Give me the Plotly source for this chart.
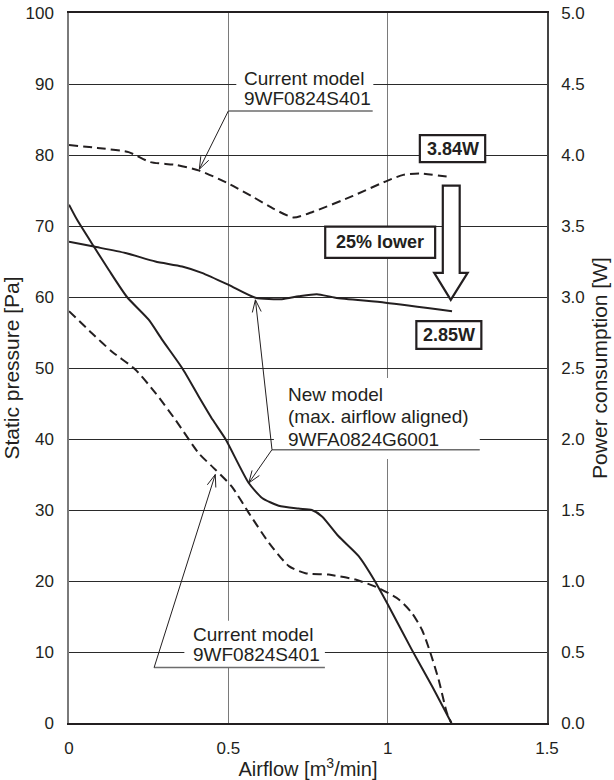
import math
import plotly.graph_objects as go

# ---------------- data ----------------
# P-Q curves (left axis, Pa)
cur_pq_x = [0.0, 0.072, 0.135, 0.208, 0.271, 0.334, 0.407, 0.459, 0.511, 0.564, 0.627, 0.690,
            0.742, 0.815, 0.899, 0.972, 1.035, 1.076, 1.108, 1.134, 1.160, 1.186, 1.200]
cur_pq_y = [58.0, 54.9, 52.3, 49.8, 46.5, 42.7, 38.0, 35.7, 33.3, 29.6, 25.4, 22.1,
            21.1, 20.9, 20.2, 19.0, 17.4, 15.5, 13.1, 9.9, 6.1, 1.4, 0.0]

new_pq_x = [0.0, 0.025, 0.078, 0.125, 0.182, 0.250, 0.292, 0.355, 0.407, 0.451, 0.491, 0.564,
            0.606, 0.658, 0.720, 0.762, 0.794, 0.846, 0.909, 0.961, 0.998, 1.076, 1.139, 1.200]
new_pq_y = [73.0, 70.9, 67.1, 63.8, 60.0, 56.8, 54.0, 50.0, 46.0, 42.7, 40.0, 33.8,
            31.7, 30.6, 30.2, 30.0, 29.1, 26.3, 23.5, 19.9, 16.9, 10.3, 5.2, 0.0]

# Power curves (right axis, W)
cur_pw_x = [0.0, 0.089, 0.187, 0.255, 0.335, 0.409, 0.500, 0.581, 0.643, 0.704, 0.766,
            0.889, 1.000, 1.049, 1.099, 1.194]
cur_pw_y = [4.07, 4.05, 4.02, 3.95, 3.93, 3.89, 3.80, 3.70, 3.62, 3.56, 3.60,
            3.71, 3.82, 3.86, 3.87, 3.845]

new_pw_x = [0.0, 0.078, 0.177, 0.271, 0.355, 0.417, 0.501, 0.585, 0.668, 0.721, 0.778,
            0.836, 0.993, 1.202]
new_pw_y = [3.39, 3.355, 3.31, 3.25, 3.215, 3.17, 3.085, 2.995, 2.985, 3.005, 3.02,
            2.995, 2.96, 2.90]

x_tickvals = [0, 0.5, 1.0, 1.5]
x_ticktext = ["0", "0.5", "1", "1.5"]
y_tickvals = [0, 10, 20, 30, 40, 50, 60, 70, 80, 90, 100]
y2_tickvals = [0.0, 0.5, 1.0, 1.5, 2.0, 2.5, 3.0, 3.5, 4.0, 4.5, 5.0]

label_cur = ["Current model", "9WF0824S401"]
label_new = ["New model", "(max. airflow aligned)", "9WFA0824G6001"]
box_labels = ["3.84W", "25% lower", "2.85W"]

# ---------------- figure ----------------
INK = "#231f20"
FONT = "Liberation Sans, Arial, sans-serif"
W, H = 614, 780
ML, MR, MT, MB = 69, 67, 13, 57
PX_X = (W - ML - MR) / 1.5     # px per x unit
PX_Y = (H - MT - MB) / 100.0   # px per Pa

fig = go.Figure()
line_kw = dict(color=INK, width=2, shape="spline", smoothing=0.6)
fig.add_trace(go.Scatter(x=cur_pq_x, y=cur_pq_y, mode="lines",
                         line=dict(dash="9px,5px", **line_kw), showlegend=False))
fig.add_trace(go.Scatter(x=new_pq_x, y=new_pq_y, mode="lines",
                         line=line_kw, showlegend=False))
fig.add_trace(go.Scatter(x=cur_pw_x, y=cur_pw_y, mode="lines", yaxis="y2",
                         line=dict(dash="9px,5px", **line_kw), showlegend=False))
fig.add_trace(go.Scatter(x=new_pw_x, y=new_pw_y, mode="lines", yaxis="y2",
                         line=line_kw, showlegend=False))

shapes = []
# white backgrounds behind label texts (cover gridlines)
for (x0, x1, y0, y1) in [(0.525, 0.955, 86.4, 92.6), (0.643, 1.289, 37.2, 48.6),
                         (0.362, 0.803, 7.8, 14.4)]:
    shapes.append(dict(type="rect", xref="x", yref="y", x0=x0, x1=x1, y0=y0, y1=y1,
                       fillcolor="white", line=dict(width=0), layer="between"))

# underlines
for (x0, x1, y) in [(0.5, 0.953, 86.2), (0.637, 1.289, 38.5), (0.267, 0.803, 7.8)]:
    shapes.append(dict(type="line", xref="x", yref="y", x0=x0, x1=x1, y0=y, y1=y,
                       line=dict(color="#6d6d6d", width=1.5)))


def vhead(xf, yf, xt, yt, length=13, half=20):
    dx = (xt - xf) * PX_X
    dy = (yt - yf) * PX_Y
    ang = math.atan2(dy, dx)
    pts = []
    for s in (-1, 1):
        a = ang + math.pi + s * math.radians(half)
        pts.append((xt + length * math.cos(a) / PX_X, yt + length * math.sin(a) / PX_Y))
    return "M {} {} L {} {} L {} {}".format(pts[0][0], pts[0][1], xt, yt, pts[1][0], pts[1][1])


leaders = [((0.5, 86.2), (0.409, 78.0)),
           ((0.637, 38.5), (0.585, 59.6)),
           ((0.637, 38.5), (0.564, 33.8)),
           ((0.267, 7.8), (0.459, 35.0))]
for (f, t) in leaders:
    shapes.append(dict(type="line", xref="x", yref="y", x0=f[0], y0=f[1], x1=t[0], y1=t[1],
                       line=dict(color=INK, width=1)))
    shapes.append(dict(type="path", xref="x", yref="y", path=vhead(f[0], f[1], t[0], t[1]),
                       line=dict(color=INK, width=1)))

# value boxes
box_geo = [(1.101, 1.306, 79.0, 82.8), (0.804, 1.149, 65.5, 69.9), (1.090, 1.294, 52.7, 56.6)]
for (x0, x1, y0, y1) in box_geo:
    shapes.append(dict(type="rect", xref="x", yref="y", x0=x0, x1=x1, y0=y0, y1=y1,
                       fillcolor="white", line=dict(color=INK, width=2.2), layer="above"))

# big down arrow
ax = [1.173, 1.226, 1.251, 1.198, 1.146]
ay = [75.7, 63.4, 59.6]
arrow_path = ("M {a0} {t} L {a1} {t} L {a1} {b} L {a2} {b} L {a3} {tip} L {a4} {b} "
              "L {a0} {b} Z").format(a0=ax[0], a1=ax[1], a2=ax[2], a3=ax[3], a4=ax[4],
                                     t=ay[0], b=ay[1], tip=ay[2])
shapes.append(dict(type="path", xref="x", yref="y", path=arrow_path, fillcolor="white",
                   line=dict(color=INK, width=2.2), layer="above"))

annotations = []
txt_font = dict(family=FONT, size=19, color=INK)
for txt, y in zip(label_cur, [90.8, 88.0]):
    annotations.append(dict(x=0.544, y=y, xref="x", yref="y", text=txt, showarrow=False,
                            xanchor="left", yanchor="middle", font=txt_font))
for txt, y in zip(label_new, [46.2, 43.1, 40.0]):
    annotations.append(dict(x=0.680, y=y, xref="x", yref="y", text=txt, showarrow=False,
                            xanchor="left", yanchor="middle", font=txt_font))
for txt, y in zip(label_cur, [12.4, 9.6]):
    annotations.append(dict(x=0.382, y=y, xref="x", yref="y", text=txt, showarrow=False,
                            xanchor="left", yanchor="middle", font=txt_font))
bold_font = dict(family=FONT, size=18, color=INK, weight="bold")
for txt, (x0, x1, y0, y1) in zip(box_labels, box_geo):
    annotations.append(dict(x=(x0 + x1) / 2, y=(y0 + y1) / 2, xref="x", yref="y",
                            text="<b>" + txt + "</b>", showarrow=False,
                            xanchor="center", yanchor="middle", font=bold_font))

tick_font = dict(family=FONT, size=17, color=INK)
title_font = dict(family=FONT, size=20, color=INK)
ytitle_font = dict(family=FONT, size=21, color=INK)

fig.update_layout(
    width=W, height=H,
    margin=dict(l=ML, r=MR, t=MT, b=MB, pad=0, autoexpand=False),
    paper_bgcolor="white", plot_bgcolor="white",
    shapes=shapes, annotations=annotations,
    xaxis=dict(range=[0, 1.5], tickvals=x_tickvals, ticktext=x_ticktext, automargin=False,
               showgrid=True, gridcolor="#7a7a7a", gridwidth=1, zeroline=False,
               showline=True, linecolor=INK, linewidth=1.5, mirror=True,
               ticks="", tickfont=tick_font, ticklabelstandoff=9,
               title=dict(text="Airflow [m<sup>3</sup>/min]", font=title_font, standoff=0)),
    yaxis=dict(range=[0, 100], tickvals=y_tickvals, showgrid=True, gridcolor="#2a2a2a",
               automargin=False,
               gridwidth=1, zeroline=False, showline=True, linecolor="#7a7a7a", linewidth=1.5,
               ticks="", tickfont=tick_font, ticklabelstandoff=10,
               title=dict(text="Static pressure [Pa]", font=ytitle_font, standoff=5)),
    yaxis2=dict(range=[0, 5], tickvals=y2_tickvals, tickformat=".1f", overlaying="y",
                automargin=False,
                side="right", showgrid=False, zeroline=False, showline=True,
                linecolor="#444444", linewidth=1.5, ticks="", tickfont=tick_font,
                ticklabelstandoff=9,
                title=dict(text="Power consumption [W]", font=ytitle_font, standoff=9)),
)

fig.write_html("out.html")
